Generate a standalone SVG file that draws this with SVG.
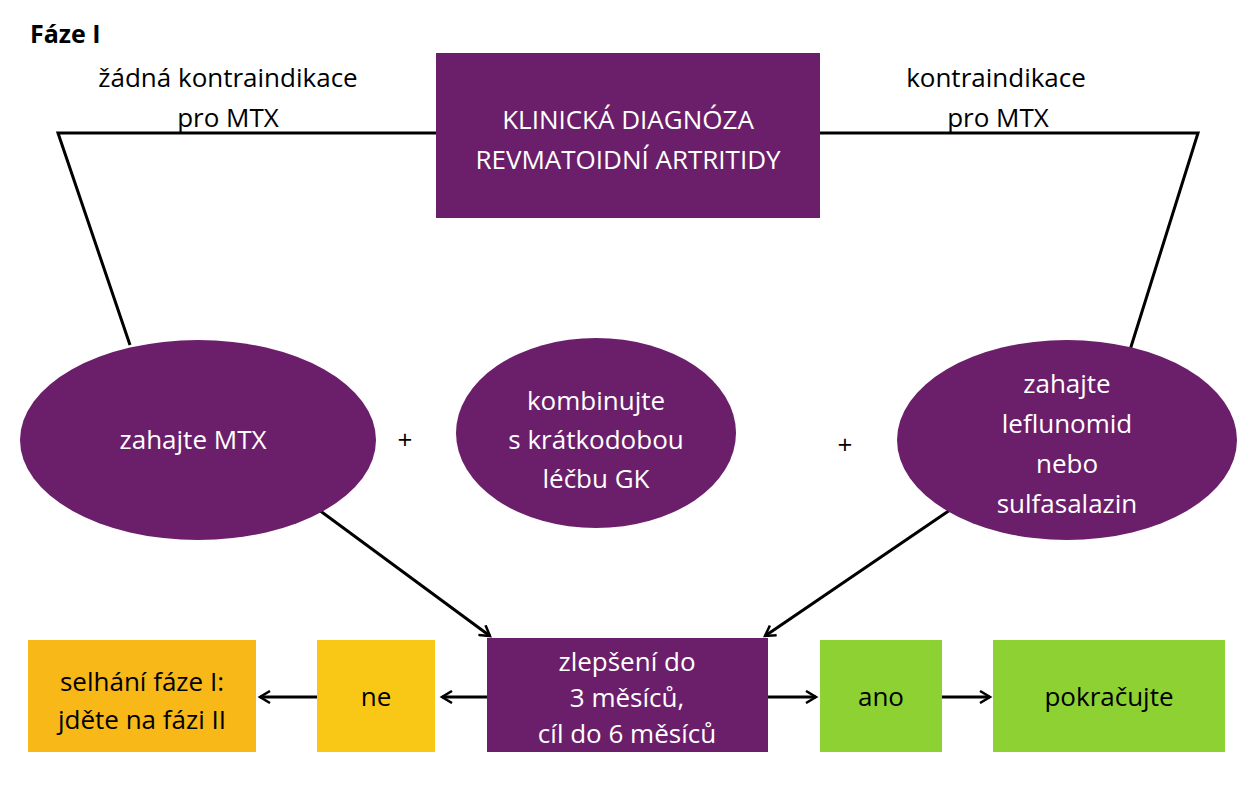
<svg xmlns="http://www.w3.org/2000/svg" width="1244" height="800" viewBox="0 0 1244 800">
<defs>
<style>
text{font-family:"Open Sans","Liberation Sans",sans-serif;font-size:26px;text-anchor:middle}
.w{fill:#fff}.p{fill:#6B1F6B}
.l{stroke:#000;stroke-width:3;fill:none}
</style>
<marker id="a" markerWidth="14" markerHeight="14" refX="11" refY="7" orient="auto" markerUnits="userSpaceOnUse"><path d="M1,1 L11,7 L1,13" fill="none" stroke="#000" stroke-width="2.5"/></marker>
</defs>
<rect width="1244" height="800" fill="#fff"/>
<text x="30" y="43" style="text-anchor:start;font-weight:bold;font-size:25px">Fáze I</text>
<text x="228" y="87">žádná kontraindikace</text>
<text x="228" y="127">pro MTX</text>
<text x="996" y="87">kontraindikace</text>
<text x="998" y="127">pro MTX</text>
<g id="connectors">
<polyline class="l" points="436,133 58,133 130,345"/>
<polyline class="l" points="820,133 1198,133 1130,350"/>
<line class="l" x1="315" y1="507" x2="490" y2="636" marker-end="url(#a)"/>
<line class="l" x1="950" y1="510" x2="765" y2="636" marker-end="url(#a)"/>
<line class="l" x1="487" y1="697" x2="442" y2="697" marker-end="url(#a)"/>
<line class="l" x1="317" y1="697" x2="260" y2="697" marker-end="url(#a)"/>
<line class="l" x1="768" y1="697" x2="816" y2="697" marker-end="url(#a)"/>
<line class="l" x1="942" y1="697" x2="990" y2="697" marker-end="url(#a)"/>
</g>
<g id="diag"><rect class="p" x="436" y="53" width="384" height="165"/>
<text class="w" x="628" y="129">KLINICKÁ DIAGNÓZA</text><text class="w" x="628" y="169">REVMATOIDNÍ ARTRITIDY</text></g>
<g id="mtx"><ellipse class="p" cx="198" cy="440" rx="178" ry="100"/><text class="w" x="193" y="449">zahajte MTX</text></g>
<g id="gk"><ellipse class="p" cx="596" cy="433" rx="140" ry="95"/>
<text class="w" x="596" y="410">kombinujte</text><text class="w" x="596" y="449">s krátkodobou</text><text class="w" x="596" y="488">léčbu GK</text></g>
<g id="lef"><ellipse class="p" cx="1067" cy="440" rx="170" ry="100"/>
<text class="w" x="1067" y="393">zahajte</text><text class="w" x="1067" y="433">leflunomid</text><text class="w" x="1067" y="473">nebo</text><text class="w" x="1067" y="513">sulfasalazin</text></g>
<text x="405" y="449">+</text><text x="845" y="454">+</text>
<g id="zlep"><rect class="p" x="487" y="638" width="281" height="114"/>
<text class="w" x="627" y="671">zlepšení do</text><text class="w" x="627" y="707">3 měsíců,</text><text class="w" x="627" y="743">cíl do 6 měsíců</text></g>
<g id="ne"><rect x="317" y="640" width="118" height="112" fill="#F9C817"/><text x="376" y="706">ne</text></g>
<g id="selh"><rect x="28" y="640" width="228" height="112" fill="#F7B818"/>
<text x="142" y="691">selhání fáze I:</text><text x="142" y="729">jděte na fázi II</text></g>
<g id="ano"><rect x="820" y="640" width="122" height="112" fill="#8DD132"/><text x="881" y="706">ano</text></g>
<g id="pokr"><rect x="993" y="640" width="232" height="112" fill="#8DD132"/><text x="1109" y="706">pokračujte</text></g>
</svg>
